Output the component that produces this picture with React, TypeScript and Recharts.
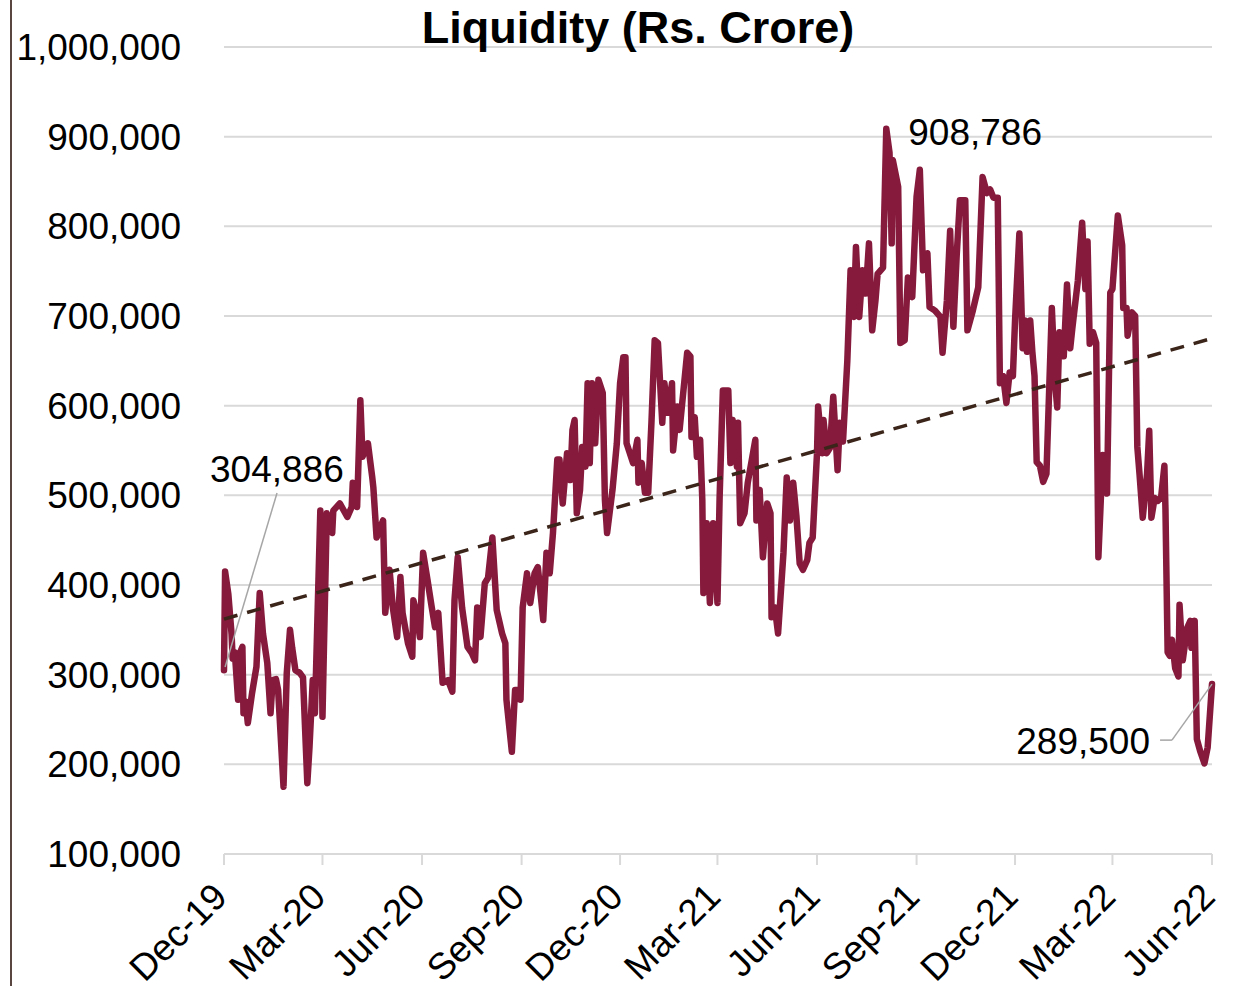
import React from 'react';
import {
  CartesianGrid,
  Line,
  LineChart,
  ReferenceDot,
  ReferenceLine,
  XAxis,
  YAxis
} from 'recharts';

// days since 1 Dec 2019
const days = [
  0, 1, 4, 6, 7, 8, 10, 13, 15, 17, 18, 20, 22, 26, 30, 33, 36, 40, 43, 45, 48, 50, 55, 58, 61, 63, 66, 70, 73, 77,
  79, 82, 84, 89, 91, 95, 100, 101, 107, 114, 118, 119, 123, 126, 128, 133, 137, 138, 141, 147, 149, 153, 156, 160,
  163, 165, 170, 174, 175, 178, 181, 184, 188, 192, 195, 198, 202, 207, 211, 213, 216, 220, 225, 229, 232, 234, 237,
  241, 244, 248, 252, 257, 260, 261, 266, 269, 272, 274, 276, 280, 283, 287, 290, 295, 298, 301, 304, 308, 310, 313,
  317, 320, 322, 324, 326, 329, 331, 334, 336, 338, 340, 343, 346, 350, 352, 354, 357, 359, 363, 366, 369, 371, 372,
  378, 382, 383, 386, 389, 392, 395, 398, 401, 405, 407, 410, 414, 415, 419, 421, 424, 428, 431, 432, 435, 437, 440,
  442, 443, 446, 449, 452, 456, 458, 461, 466, 468, 470, 474, 475, 477, 481, 484, 491, 492, 495, 498, 502, 505, 506,
  509, 512, 517, 520, 523, 526, 529, 532, 535, 539, 541, 544, 548, 549, 553, 554, 557, 560, 563, 567, 569, 572, 576,
  579, 582, 584, 587, 590, 593, 596, 599, 602, 604, 609, 612, 615, 617, 618, 623, 625, 629, 632, 636, 640, 643, 646,
  650, 652, 657, 662, 664, 668, 671, 674, 677, 680, 685, 687, 692, 697, 701, 705, 708, 711, 715, 717, 720, 723, 726,
  729, 731, 735, 738, 740, 742, 745, 747, 749, 751, 754, 757, 760, 765, 768, 770, 772, 775, 776, 779, 782, 784, 789,
  793, 796, 798, 800, 803, 806, 808, 812, 816, 819, 821, 826, 830, 831, 834, 835, 839, 842, 844, 846, 849, 853, 855,
  857, 860, 863, 866, 869, 870, 872, 874, 876, 879, 882, 883, 886, 890, 893, 894, 897, 899, 902, 906, 909, 913
];

// Rs. '000 crore
const liquidityK = [
  304.886, 415, 390, 360, 345, 318, 325, 272, 325, 331, 257, 270, 246, 280, 309, 391, 346, 313, 257, 294, 295, 283,
  175, 302, 350, 330, 305, 302, 297, 179, 219, 294, 257, 483, 253, 480, 458, 483, 491, 476, 487, 514, 487, 606, 543,
  558, 520, 509, 453, 472, 369, 417, 375, 342, 409, 369, 335, 320, 383, 369, 342, 436, 406, 375, 353, 369, 291, 294,
  281, 383, 431, 375, 331, 324, 316, 375, 342, 402, 408, 453, 372, 346, 335, 272, 214, 283, 283, 272, 375, 413, 380,
  413, 420, 361, 436, 413, 458, 540, 540, 491, 547, 517, 573, 584, 480, 506, 554, 532, 625, 536, 625, 558, 629, 614,
  495, 458, 487, 506, 558, 625, 654, 654, 558, 536, 562, 514, 536, 503, 503, 581, 673, 670, 581, 625, 592, 625, 550,
  599, 573, 610, 659, 655, 565, 587, 543, 562, 495, 391, 469, 380, 469, 380, 498, 617, 617, 536, 584, 532, 581, 469,
  480, 514, 562, 472, 506, 431, 491, 480, 364, 375, 346, 436, 520, 472, 514, 476, 424, 417, 428, 447, 453, 547, 599,
  547, 584, 547, 553, 610, 528, 581, 560, 650, 751, 699, 777, 699, 751, 725, 781, 684, 717, 747, 754, 908.786, 882,
  781, 874, 844, 670, 673, 743, 721, 833, 863, 751, 770, 710, 706, 699, 659, 717, 795, 688, 766, 829, 829, 684, 706,
  732, 855, 837, 841, 832, 832, 625, 633, 603, 637, 633, 695, 792, 664, 695, 660, 695, 660, 633, 537, 533, 515, 524,
  709, 625, 598, 682, 678, 655, 735, 664, 687, 739, 804, 730, 783, 669, 682, 670, 431, 545, 502, 726, 730, 812, 779,
  709, 709, 678, 704, 700, 554, 524, 475, 524, 572, 475, 497, 494, 498, 533, 484, 325, 321, 339, 307, 298, 378, 316,
  352, 360, 330, 360, 228, 215, 201, 219, 289.5
];

const trendDays = [0, 913];
const trendK = [362, 675];

const tickDays = [0, 91, 183, 275, 366, 456, 548, 640, 731, 821, 913];
const tickLabels = ['Dec-19', 'Mar-20', 'Jun-20', 'Sep-20', 'Dec-20', 'Mar-21', 'Jun-21', 'Sep-21', 'Dec-21', 'Mar-22', 'Jun-22'];
const yTicks = [100000, 200000, 300000, 400000, 500000, 600000, 700000, 800000, 900000, 1000000];

const series = days.map((d, i) => ({ day: d, value: liquidityK[i] * 1000 }));
const trend = trendDays.map((d, i) => ({ day: d, value: trendK[i] * 1000 }));

const FONT = '"Liberation Sans", Arial, sans-serif';
const fmt = (v: number) => v.toLocaleString('en-US');

const DateTick = (props: any) => {
  const { x, y, payload } = props;
  const label = tickLabels[tickDays.indexOf(payload.value)];
  return (
    <g transform={`translate(${x + 5},${y + 32}) rotate(-45)`}>
      <text textAnchor="end" fontSize={37} fill="#000" fontFamily={FONT}>
        {label}
      </text>
    </g>
  );
};

const Note = (props: any) => {
  const { cx, cy, text, dx, dy, anchor } = props;
  return (
    <text x={cx + dx} y={cy + dy} textAnchor={anchor} fontSize={37} fill="#000" fontFamily={FONT}>
      {text}
    </text>
  );
};

export default function App() {
  return (
    <div style={{ position: 'absolute', left: 0, top: 0, width: 1234, height: 986, background: '#fff' }}>
      <div style={{ position: 'absolute', left: 10, top: 0, width: 2, height: 986, background: '#5a4640' }} />
      <LineChart
        width={1234}
        height={986}
        data={series}
        margin={{ top: 47, right: 22, bottom: 32, left: 10 }}
        style={{ fontFamily: FONT }}
      >
        <CartesianGrid vertical={false} stroke="#d9d9d9" strokeWidth={2} />
        <XAxis
          dataKey="day"
          type="number"
          domain={[0, 913]}
          ticks={tickDays}
          interval={0}
          height={100}
          axisLine={{ stroke: '#d9d9d9', strokeWidth: 2 }}
          tickLine={{ stroke: '#d9d9d9', strokeWidth: 2 }}
          tickSize={11}
          tick={<DateTick />}
        />
        <YAxis
          type="number"
          domain={[100000, 1000000]}
          ticks={yTicks}
          interval={0}
          width={214}
          axisLine={false}
          tickLine={false}
          tickSize={0}
          tickMargin={43}
          tickFormatter={fmt}
          tick={{ fill: '#000', fontSize: 37, fontFamily: FONT }}
        />
        <Line
          type="linear"
          dataKey="value"
          stroke="#861a3c"
          strokeWidth={6.5}
          strokeLinejoin="round"
          strokeLinecap="round"
          dot={false}
          isAnimationActive={false}
        />
        <Line
          data={trend}
          type="linear"
          dataKey="value"
          stroke="#3b2419"
          strokeWidth={3.5}
          strokeDasharray="14 10"
          dot={false}
          isAnimationActive={false}
        />
        <ReferenceLine
          segment={[{ x: 1, y: 308500 }, { x: 49, y: 502600 }]}
          stroke="#a6a6a6"
          strokeWidth={1.5}
        />
        <ReferenceLine
          segment={[{ x: 913, y: 289500 }, { x: 876, y: 227000 }]}
          stroke="#a6a6a6"
          strokeWidth={1.5}
        />
        <ReferenceLine
          segment={[{ x: 876, y: 227000 }, { x: 865, y: 227000 }]}
          stroke="#a6a6a6"
          strokeWidth={1.5}
        />
        <ReferenceDot
          x={0}
          y={304886}
          r={0}
          shape={(p: any) => <Note {...p} text="304,886" dx={-14} dy={-188} anchor="start" />}
        />
        <ReferenceDot
          x={612}
          y={908786}
          r={0}
          shape={(p: any) => <Note {...p} text="908,786" dx={22} dy={16} anchor="start" />}
        />
        <ReferenceDot
          x={913}
          y={289500}
          r={0}
          shape={(p: any) => <Note {...p} text="289,500" dx={-62} dy={70} anchor="end" />}
        />
      </LineChart>
      <svg width={1234} height={60} style={{ position: 'absolute', left: 0, top: 0, pointerEvents: 'none' }}>
        <text x={638} y={43} textAnchor="middle" fontSize={45} fontWeight="bold" fill="#000" fontFamily={FONT}>
          Liquidity (Rs. Crore)
        </text>
      </svg>
    </div>
  );
}
